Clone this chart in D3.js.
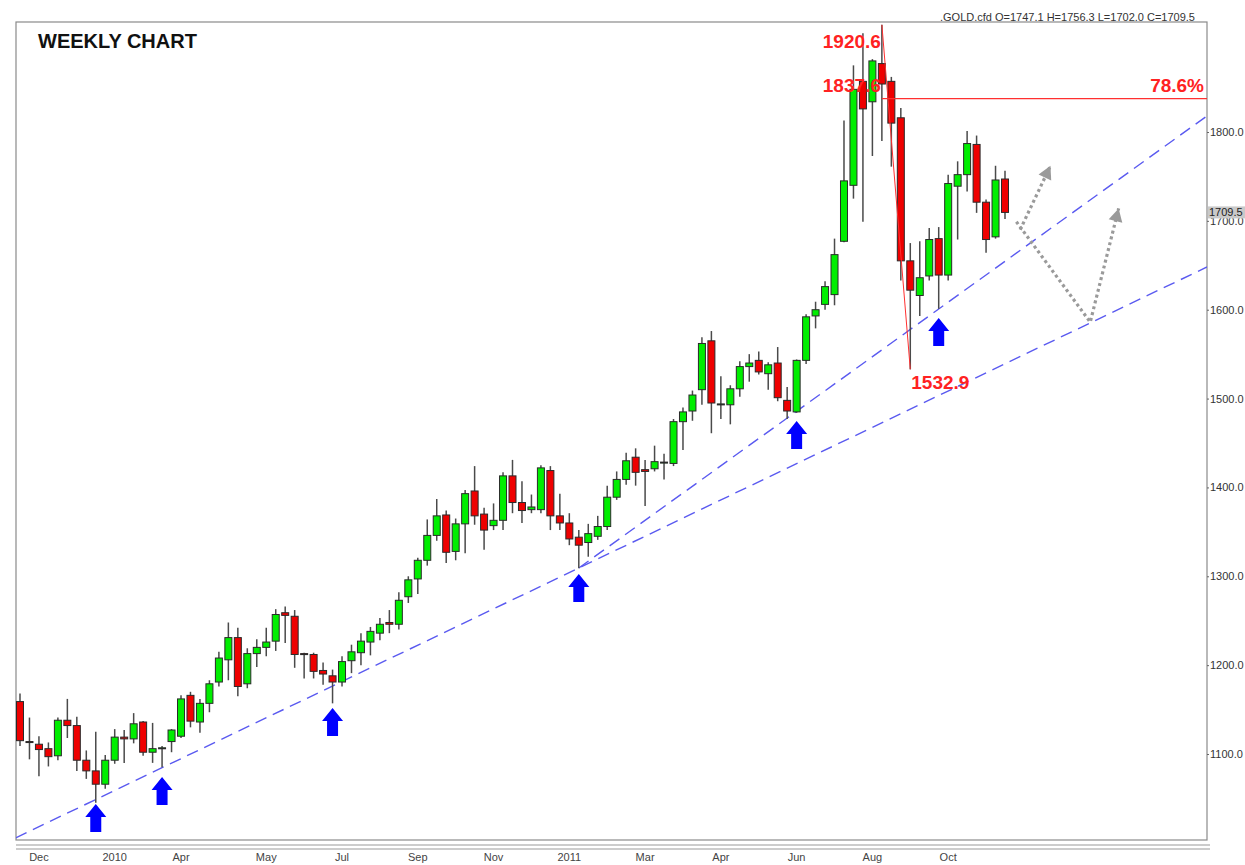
<!DOCTYPE html>
<html>
<head>
<meta charset="utf-8">
<script src="https://cdn.jsdelivr.net/npm/d3@7"></script>
<style>
  body { margin: 0; background: #fff; }
  #svg-container { width: 1245px; height: 865px; }
  svg { display: block; font-family: "Liberation Sans", Arial, sans-serif; }
</style>
</head>
<body>
<div id="svg-container"></div>
<script>
////////////////////////////////////////////////////////////////////
////////////////////////////  Data  ////////////////////////////////
// weekly GOLD candles (105 weeks)
const opens = [1159,1114,1111,1106,1098,1138,1132,1093,1081,1066,1093,1119,1117,1136,1102,1107,1114,1120,1166,1136,
  1157,1181,1206,1231,1179,1213,1220,1227,1259,1255,1213,1212,1194,1188,1181,1205,1214,1226,1236,1248,
  1246,1277,1297,1318,1346,1369,1328,1359,1396,1370,1357,1363,1413,1383,1375,1375,1419,1368,1360,1344,
  1338,1345,1356,1389,1409,1434,1420,1421,1428,1427,1474,1486,1510,1565,1494,1493,1511,1536,1543,1528,
  1540,1498,1485,1543,1593,1606,1617,1677,1740,1857,1834,1877,1857,1816,1655,1616,1638,1680,1639,1739,
  1752,1786,1721,1682,1747.1];
const highs = [1168,1141,1120,1113,1141,1162,1142,1104,1125,1099,1128,1127,1146,1137,1135,1109,1128,1166,1170,1162,
  1183,1215,1248,1242,1219,1229,1242,1263,1266,1262,1214,1214,1203,1195,1210,1223,1236,1243,1253,1262,
  1282,1300,1321,1364,1387,1374,1365,1397,1424,1377,1382,1417,1431,1407,1392,1425,1424,1393,1371,1352,
  1359,1368,1402,1418,1439,1444,1431,1447,1438,1477,1490,1509,1569,1576,1525,1515,1542,1550,1553,1541,
  1558,1513,1544,1595,1609,1632,1680,1813,1875,1911,1882,1920.6,1862,1827,1675,1677,1692,1693,1752,1767,
  1801,1796,1724,1762,1756.3];
const lows = [1109,1094,1075,1086,1093,1118,1081,1072,1045,1061,1089,1090,1112,1098,1090,1085,1102,1118,1130,1124,
  1147,1176,1183,1165,1174,1198,1210,1216,1225,1197,1185,1185,1178,1157,1176,1191,1200,1211,1228,1236,
  1240,1270,1280,1312,1340,1315,1318,1326,1358,1330,1352,1352,1371,1360,1371,1371,1352,1352,1335,1309,
  1322,1341,1352,1386,1403,1402,1379,1418,1409,1424,1442,1475,1493,1461,1477,1471,1502,1519,1527,1510,
  1497,1477,1484,1539,1579,1600,1605,1676,1725,1699,1773,1790,1761,1633,1532.9,1593,1633,1601,1633,1679,
  1733,1709,1664,1680,1702.0];
const closes = [1115,1113,1105,1097,1138,1132,1093,1081,1066,1093,1119,1117,1134,1102,1106,1107,1127,1162,1137,1157,
  1179,1208,1231,1176,1213,1220,1226,1257,1256,1212,1212,1193,1190,1181,1204,1215,1227,1238,1246,1246,
  1273,1296,1318,1346,1368,1327,1359,1393,1368,1352,1363,1413,1383,1374,1378,1422,1368,1360,1342,1335,
  1348,1356,1389,1409,1430,1417,1418,1429,1428.5,1474,1485,1504,1562,1495,1494,1511,1536,1540,1530,1538,
  1501,1486,1543,1592,1600,1626,1662,1745,1848,1826,1880,1854,1810,1655,1622,1636,1679,1639,1742,1752,
  1787,1721,1679,1746,1709.5];

// x axis labels (week index) and y axis ticks
const monthIdx = [2, 10, 17, 26, 34, 42, 50, 58, 66, 74, 82, 90, 98];
const monthLabels = ["Dec", "2010", "Apr", "May", "Jul", "Sep", "Nov", "2011", "Mar", "Apr", "Jun", "Aug", "Oct"];
const yTicks = [1100, 1200, 1300, 1400, 1500, 1600, 1700, 1800];

// support trendlines: two anchor points [week, price]
const trendLines = [
  { a: [8, 1048.8], b: [59, 1309.3], start: -0.45 },
  { a: [59, 1309.3], b: [97, 1600.8], start: 59 }
];
// blue arrows under swing lows: week, price at tip
const arrowIdx = [8, 15, 33, 59, 82, 97];
const arrowTip = [1043.8, 1074.1, 1151.8, 1302.6, 1474.8, 1590.7];

// fib levels
const swingHigh = { i: 91, v: 1920.6 };
const swingLow = { i: 94, v: 1532.9 };
const fibLevel = 1837.6;

// projected paths (gray dotted)
const projUp = [[105.6, 1690], [108.8, 1762]];
const projDown = [[105.2, 1699], [113, 1586], [116, 1714]];

const header = ".GOLD.cfd O=1747.1 H=1756.3 L=1702.0 C=1709.5";
const lastClose = 1709.5;

////////////////////////////////////////////////////////////////////
////////////////////////////  Init  ////////////////////////////////
const width = 1245;
const height = 865;
const plot = { left: 16, right: 1207, top: 22, bottom: 840 };

const svg = d3.select("#svg-container").append("svg")
  .attr("width", width).attr("height", height);

const xScale = d3.scaleLinear().domain([0, 104]).range([20, 1005]);
const yScale = d3.scaleLinear().domain([1100, 1800]).range([754, 132]);

const candles = opens.map((o, i) => ({ i, o, h: highs[i], l: lows[i], c: closes[i] }));

svg.append("clipPath").attr("id", "clip")
  .append("rect")
  .attr("x", plot.left).attr("y", plot.top)
  .attr("width", plot.right - plot.left).attr("height", plot.bottom - plot.top);

// frame
svg.append("rect")
  .attr("x", plot.left).attr("y", plot.top)
  .attr("width", plot.right - plot.left).attr("height", plot.bottom - plot.top)
  .attr("fill", "none").attr("stroke", "#8a8a8a").attr("stroke-width", 1.2);

[845, 849].forEach((yy) => {
  svg.append("line")
    .attr("x1", plot.left).attr("x2", plot.right + 3)
    .attr("y1", yy).attr("y2", yy)
    .attr("stroke", "#9a9a9a").attr("stroke-width", 1.2);
});

// y axis (right)
const yAxis = d3.axisRight(yScale).tickValues(yTicks)
  .tickFormat((d) => d.toFixed(1)).tickSize(2).tickPadding(1);

const yAxisG = svg.append("g")
  .attr("transform", `translate(${plot.right},0)`)
  .call(yAxis);
yAxisG.select(".domain").remove();
yAxisG.selectAll("text").attr("font-size", 11).attr("fill", "#333")
  .attr("font-family", "Liberation Sans, Arial, sans-serif");
yAxisG.selectAll("line").attr("stroke", "#666");

// last price tag
svg.append("rect")
  .attr("x", plot.right + 1).attr("y", yScale(lastClose) - 6)
  .attr("width", 37).attr("height", 12).attr("fill", "#c9c9c9");
svg.append("text")
  .attr("x", plot.right + 2).attr("y", yScale(lastClose) + 4)
  .attr("font-size", 11).attr("fill", "#222")
  .text(lastClose.toFixed(1));

// x labels
svg.selectAll(".month")
  .data(monthIdx)
  .enter()
  .append("text")
  .attr("class", "month")
  .attr("x", (d) => xScale(d))
  .attr("y", 861)
  .attr("text-anchor", "middle")
  .attr("font-size", 11)
  .attr("fill", "#444")
  .text((d, i) => monthLabels[i]);

const chart = svg.append("g").attr("clip-path", "url(#clip)");

////////////////////////////////////////////////////////////////////
////////////////////////////  Trendlines  //////////////////////////
const rightIdx = xScale.invert(plot.right);
trendLines.forEach((t) => {
  const slope = (t.b[1] - t.a[1]) / (t.b[0] - t.a[0]);
  const at = (i) => t.a[1] + slope * (i - t.a[0]);
  chart.append("line")
    .attr("x1", xScale(t.start)).attr("y1", yScale(at(t.start)))
    .attr("x2", xScale(rightIdx)).attr("y2", yScale(at(rightIdx)))
    .attr("stroke", "#5a5af0").attr("stroke-width", 1.4)
    .attr("stroke-dasharray", "12,7");
});

////////////////////////////////////////////////////////////////////
////////////////////////////  Candles  /////////////////////////////
const bodyW = 7;
const cg = chart.selectAll(".candle").data(candles).enter().append("g").attr("class", "candle");

cg.append("line")
  .attr("x1", (d) => xScale(d.i)).attr("x2", (d) => xScale(d.i))
  .attr("y1", (d) => yScale(d.h)).attr("y2", (d) => yScale(d.l))
  .attr("stroke", "#4a4a4a").attr("stroke-width", 1.5);

cg.append("rect")
  .attr("x", (d) => xScale(d.i) - bodyW / 2)
  .attr("y", (d) => yScale(Math.max(d.o, d.c)))
  .attr("width", bodyW)
  .attr("height", (d) => Math.max(1, Math.abs(yScale(d.o) - yScale(d.c))))
  .attr("fill", (d) => (d.c >= d.o ? "#00ee00" : "#ee0000"))
  .attr("stroke", "#2a2a2a").attr("stroke-width", 1);

////////////////////////////////////////////////////////////////////
////////////////////////////  Annotations  /////////////////////////
// swing line and fib level
chart.append("line")
  .attr("x1", xScale(swingHigh.i)).attr("y1", yScale(swingHigh.v))
  .attr("x2", xScale(swingLow.i)).attr("y2", yScale(swingLow.v))
  .attr("stroke", "#ff3030").attr("stroke-width", 1);

chart.append("line")
  .attr("x1", xScale(swingHigh.i)).attr("x2", plot.right)
  .attr("y1", yScale(fibLevel)).attr("y2", yScale(fibLevel))
  .attr("stroke", "#ff3030").attr("stroke-width", 1.2);

const redText = (x, y, anchor, txt) =>
  svg.append("text")
    .attr("x", x).attr("y", y).attr("dy", "0.35em")
    .attr("text-anchor", anchor)
    .attr("font-size", 19).attr("font-weight", "bold")
    .attr("fill", "#ff2222").text(txt);

redText(xScale(swingHigh.i) - 1, yScale(swingHigh.v) + 17, "end", swingHigh.v.toFixed(1));
redText(xScale(swingHigh.i) - 1, yScale(fibLevel) - 13, "end", fibLevel.toFixed(1));
redText(plot.right - 3, yScale(fibLevel) - 13, "end", "78.6%");
redText(xScale(swingLow.i) + 1, yScale(swingLow.v) + 13, "start", swingLow.v.toFixed(1));

// blue arrows
const arrowPath = "M0,0 L10.5,13 L5.5,13 L5.5,28 L-5.5,28 L-5.5,13 L-10.5,13 Z";
svg.selectAll(".arrow")
  .data(arrowIdx)
  .enter()
  .append("path")
  .attr("class", "arrow")
  .attr("d", arrowPath)
  .attr("transform", (d, i) => `translate(${xScale(d)},${yScale(arrowTip[i])})`)
  .attr("fill", "#0000ff");

// gray dotted projections
const line = d3.line().x((d) => xScale(d[0])).y((d) => yScale(d[1]));
const drawProj = (pts) => {
  chart.append("path")
    .attr("d", line(pts))
    .attr("fill", "none").attr("stroke", "#9a9a9a")
    .attr("stroke-width", 3.2).attr("stroke-dasharray", "3,3");
  const p1 = pts[pts.length - 2], p2 = pts[pts.length - 1];
  const ang = Math.atan2(yScale(p2[1]) - yScale(p1[1]), xScale(p2[0]) - xScale(p1[0])) * 180 / Math.PI;
  chart.append("path")
    .attr("d", "M0,0 L-13,-7 L-13,7 Z")
    .attr("transform", `translate(${xScale(p2[0])},${yScale(p2[1])}) rotate(${ang})`)
    .attr("fill", "#9a9a9a");
};
drawProj(projUp);
drawProj(projDown);

// titles
svg.append("text")
  .attr("x", 38).attr("y", 48)
  .attr("font-size", 20).attr("font-weight", "bold").attr("fill", "#111")
  .text("WEEKLY CHART");

svg.append("text")
  .attr("x", 1195).attr("y", 21)
  .attr("text-anchor", "end")
  .attr("font-size", 11).attr("fill", "#333")
  .text(header);
</script>
</body>
</html>
